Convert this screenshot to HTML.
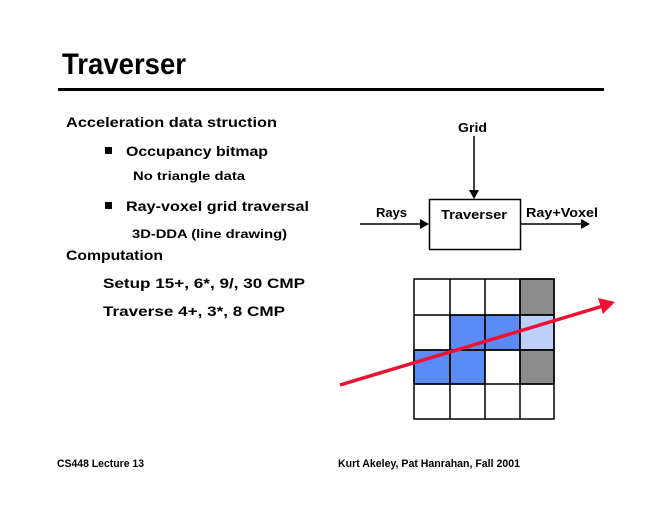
<!DOCTYPE html>
<html><head><style>body{margin:0;background:#fff}svg{display:block}</style></head><body>
<svg width="660" height="510" viewBox="0 0 660 510" xmlns="http://www.w3.org/2000/svg" font-family="'Liberation Sans', sans-serif" font-weight="bold" fill="#000">
<text x="62" y="74" font-size="30" textLength="124" lengthAdjust="spacingAndGlyphs">Traverser</text>
<rect x="58" y="88" width="546" height="3"/>
<g font-size="14">
<text x="66" y="127" textLength="211" lengthAdjust="spacingAndGlyphs">Acceleration data struction</text>
<rect x="105" y="147" width="7" height="7"/>
<text x="126" y="156" textLength="142" lengthAdjust="spacingAndGlyphs">Occupancy bitmap</text>
<text x="133" y="180" font-size="12" textLength="112" lengthAdjust="spacingAndGlyphs">No triangle data</text>
<rect x="105" y="202" width="7" height="7"/>
<text x="126" y="211" textLength="183" lengthAdjust="spacingAndGlyphs">Ray-voxel grid traversal</text>
<text x="132" y="238" font-size="12" textLength="155" lengthAdjust="spacingAndGlyphs">3D-DDA (line drawing)</text>
<text x="66" y="260" textLength="97" lengthAdjust="spacingAndGlyphs">Computation</text>
<text x="103" y="288" textLength="202" lengthAdjust="spacingAndGlyphs">Setup 15+, 6*, 9/, 30 CMP</text>
<text x="103" y="316" textLength="182" lengthAdjust="spacingAndGlyphs">Traverse 4+, 3*, 8 CMP</text>
</g>
<g font-size="11">
<text x="57" y="467" textLength="87" lengthAdjust="spacingAndGlyphs">CS448 Lecture 13</text>
<text x="338" y="467" textLength="182" lengthAdjust="spacingAndGlyphs">Kurt Akeley, Pat Hanrahan, Fall 2001</text>
</g>
<g font-size="13">
<text x="458" y="132" textLength="29" lengthAdjust="spacingAndGlyphs">Grid</text>
<text x="376" y="217" textLength="31" lengthAdjust="spacingAndGlyphs">Rays</text>
<text x="441" y="219" textLength="66" lengthAdjust="spacingAndGlyphs">Traverser</text>
<text x="526" y="217" textLength="72" lengthAdjust="spacingAndGlyphs">Ray+Voxel</text>
</g>
<rect x="429.5" y="199.5" width="91" height="50" fill="none" stroke="#000" stroke-width="1.5"/>
<line x1="474" y1="136" x2="474" y2="191" stroke="#000" stroke-width="1.5"/>
<polygon points="469,190 479,190 474,199"/>
<line x1="360" y1="224" x2="421" y2="224" stroke="#000" stroke-width="1.5"/>
<polygon points="420,219 420,229 429,224"/>
<line x1="521" y1="224" x2="582" y2="224" stroke="#000" stroke-width="1.5"/>
<polygon points="581,219 581,229 590,224"/>
<g stroke="#000" stroke-width="1.5">
<rect x="520" y="279" width="34" height="36" fill="#8c8c8c"/>
<rect x="450" y="315" width="35" height="35" fill="#5b8cf5"/>
<rect x="485" y="315" width="35" height="35" fill="#5b8cf5"/>
<rect x="520" y="315" width="34" height="35" fill="#bcd0f8"/>
<rect x="414" y="350" width="36" height="34" fill="#5b8cf5"/>
<rect x="450" y="350" width="35" height="34" fill="#5b8cf5"/>
<rect x="520" y="350" width="34" height="34" fill="#8c8c8c"/>
<rect x="414" y="279" width="140" height="140" fill="none"/>
<line x1="450" y1="279" x2="450" y2="419"/><line x1="485" y1="279" x2="485" y2="419"/><line x1="520" y1="279" x2="520" y2="419"/>
<line x1="414" y1="315" x2="554" y2="315"/><line x1="414" y1="350" x2="554" y2="350"/><line x1="414" y1="384" x2="554" y2="384"/>
</g>
<line x1="340" y1="385" x2="603" y2="306" stroke="#ee1133" stroke-width="3.5"/>
<polygon points="615,302 598,298 603,314" fill="#ee1133"/>
</svg>
</body></html>
